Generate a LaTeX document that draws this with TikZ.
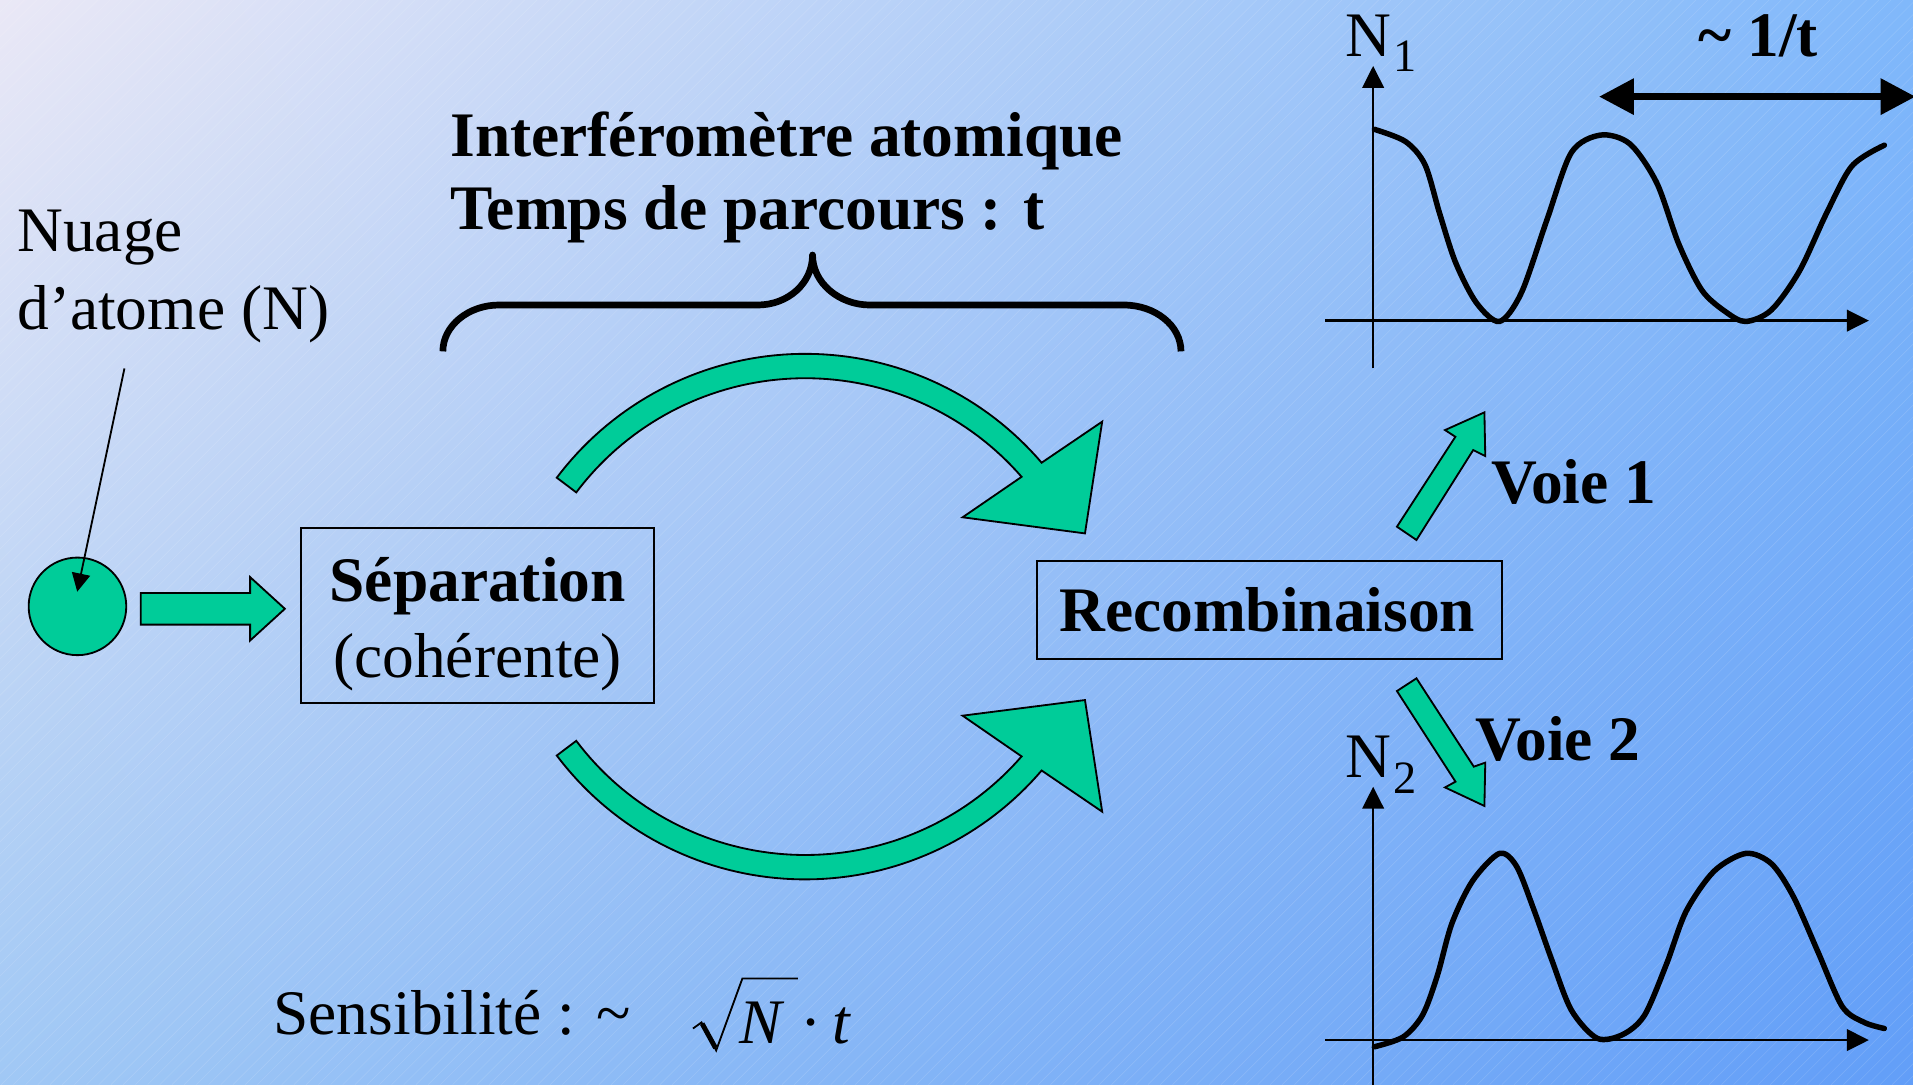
\documentclass[tikz,border=0pt]{standalone}
\usepackage{fontspec}
\setmainfont{Liberation Serif}
\usetikzlibrary{arrows.meta,shadings}
\definecolor{grn}{RGB}{0,204,153}
\definecolor{bgUL}{RGB}{234,232,246}
\definecolor{bgUR}{RGB}{128,184,250}
\definecolor{bgLL}{RGB}{160,200,245}
\definecolor{bgLR}{RGB}{98,158,248}
\begin{document}
\begin{tikzpicture}[x=1pt,y=-1pt,
  txt/.style={inner sep=0pt, anchor=base west, font=\fontsize{52}{62}\selectfont},
  btxt/.style={inner sep=0pt, anchor=base west, font=\fontsize{52}{62}\selectfont\bfseries},
  grnshape/.style={fill=grn, draw=black, line width=1.5pt, line join=miter},
  boxframe/.style={draw=black, line width=1.5pt, inner sep=0pt},
  axisline/.style={line width=2pt, -{Triangle[length=18pt,width=17.6pt]}},
  wave/.style={line width=4.5pt, line join=round, line cap=round}]
\useasboundingbox (0,0) rectangle (1568,889);
\shade[upper left=bgUL, upper right=bgUR, lower left=bgLL, lower right=bgLR] (0,0) rectangle (1568,889);
\begin{scope}
\clip (0,0) rectangle (1568,889);
\foreach \i in {0,10,...,2460} \draw[white, opacity=0.13, line width=0.5pt] (\i-889,889) -- (\i,0);
\end{scope}

% Nuage label and pointer
\node[txt] (nuage1) at (14,206) {Nuage};
\node[txt] (nuage2) at (14,270) {d’atome (N)};
\node[circle, draw=black, fill=grn, minimum size=80pt, inner sep=0pt, line width=1.5pt] (cloud) at (63.5,497) {};
\coordinate (ptrtop) at (102,302);
\coordinate (cloudpt) at (63.3,485);
\draw[line width=1.5pt, -{Triangle[length=15pt,width=15pt]}] (ptrtop) -- (cloudpt);

% block arrow to separation
\draw[grnshape] (115.3,486) -- (205,486) -- (205,473) -- (233.5,499) -- (205,525) -- (205,512) -- (115.3,512) -- cycle;

% Separation box
\node[boxframe, minimum width=289pt, minimum height=143.5pt] (sep) at (391.5,504.75) {};
\node[btxt, anchor=base] (septxt) at (391.5,493) {Séparation};
\node[txt, anchor=base] (cohtxt) at (391.5,555) {(cohérente)};

% title
\node[btxt] (titre1) at (369,128) {Interféromètre atomique};
\node[btxt] (titre2) at (369,188) {Temps de parcours : t};

% brace
\draw[line width=5.5pt, line join=round, line cap=butt]
  (363,288) .. controls (363,267) and (384,250) .. (409,250) -- (621,250)
  .. controls (646,250) and (666,232) .. (666,209)
  .. controls (666,232) and (688,250) .. (713,250) -- (921,250)
  .. controls (947,250) and (968,267) .. (968,288);

% curved arrows
\draw[grnshape] plot[domain=143:40.54, samples=70] ({660+255*cos(\x)},{545-255*sin(\x)})
  -- (903.4,345.6) -- (889.3,437.2) -- (789,424)
  -- plot[domain=41:143, samples=70] ({660+235*cos(\x)},{545-235*sin(\x)}) -- cycle;
\draw[grnshape] plot[domain=143:40.54, samples=70] ({660+255*cos(\x)},{465.8+255*sin(\x)})
  -- (903.4,665.3) -- (889.3,573.8) -- (789,586.6)
  -- plot[domain=41:143, samples=70] ({660+235*cos(\x)},{465.8+235*sin(\x)}) -- cycle;

% Recombinaison
\node[boxframe, minimum width=381pt, minimum height=80pt] (recomb) at (1040.5,500) {};
\node[btxt] (rectxt) at (868,518) {Recombinaison};

% voies
\draw[grnshape] (1145,431.7) -- (1192.9,358) -- (1184.4,352.5) -- (1216.7,338) -- (1217.4,373.8) -- (1207.5,368.9) -- (1161,442.6) -- cycle;
\draw[grnshape] (1145,566.4) -- (1161,556) -- (1208,628.4) -- (1217.4,625.1) -- (1216.7,660.6) -- (1184.4,645.4) -- (1193,640.7) -- cycle;
\node[btxt] (voie1) at (1222,413) {Voie 1};
\node[btxt] (voie2) at (1209,623) {Voie 2};

% graph 1
\coordinate (y1bot) at (1125.5,302);
\coordinate (y1top) at (1125.5,54);
\coordinate (x1left) at (1086.4,262.8);
\coordinate (x1right) at (1531.8,262.8);
\draw[axisline] (y1bot) -- (y1top);
\draw[axisline] (x1left) -- (x1right);
\draw[wave] plot[smooth, tension=0.5] coordinates {(1126.5,106) (1152,116) (1168,135) (1180,175) (1193,215) (1210,248) (1229,263.5) (1247,240) (1268,180) (1288,125) (1312,110.7) (1336,118) (1358,150) (1376,200) (1395,238) (1415,256) (1431,263.5) (1452,254) (1475,222) (1497,175) (1518,136) (1544.5,119)};
\node[txt] (n1) at (1103,46) {N\kern1.5pt\raisebox{-13pt}{\fontsize{38}{40}\selectfont 1}};
\coordinate (perl) at (1310.7,79.2);
\coordinate (perr) at (1570,79.2);
\draw[line width=5.5pt, {Triangle[length=28.5pt,width=28.6pt]}-{Triangle[length=28.5pt,width=28.6pt]}] (perl) -- (perr);
\node[btxt] (period) at (1392,46) {\textasciitilde\ 1/t};

% graph 2
\coordinate (y2bot) at (1125.5,892);
\coordinate (y2top) at (1125.5,644.8);
\coordinate (x2left) at (1086.4,852.5);
\coordinate (x2right) at (1531.8,852.5);
\draw[axisline] (y2bot) -- (y2top);
\draw[axisline] (x2left) -- (x2right);
\draw[wave] plot[smooth, tension=0.5] coordinates {(1126.5,858) (1150,850) (1166,832) (1178,800) (1190,757) (1207,722) (1229,699.5) (1243,710) (1257,745) (1272,787) (1288,828) (1309,851) (1330,848) (1348,832) (1366,790) (1382,747) (1405,714) (1431,699.5) (1452,708) (1470,735) (1490,780) (1510,825) (1528,838) (1544.5,843)};
\node[txt] (n2) at (1103,637) {N\kern1.5pt\raisebox{-13pt}{\fontsize{38}{40}\selectfont 2}};

% sensibilite
\node[txt] (sens) at (224,848) {Sensibilité : \textasciitilde};
\draw[line width=1.5pt, line join=miter] (568,843) -- (575,838) -- (587,861) -- (608.5,802) -- (654,802);
\draw[line width=4pt] (575.5,839) -- (586.5,859);
\node[txt] (sqN) at (606,855) {\itshape N};
\node[txt] (dott) at (656,855) {·\hspace{9pt}\textit{t}};
\end{tikzpicture}
\end{document}
